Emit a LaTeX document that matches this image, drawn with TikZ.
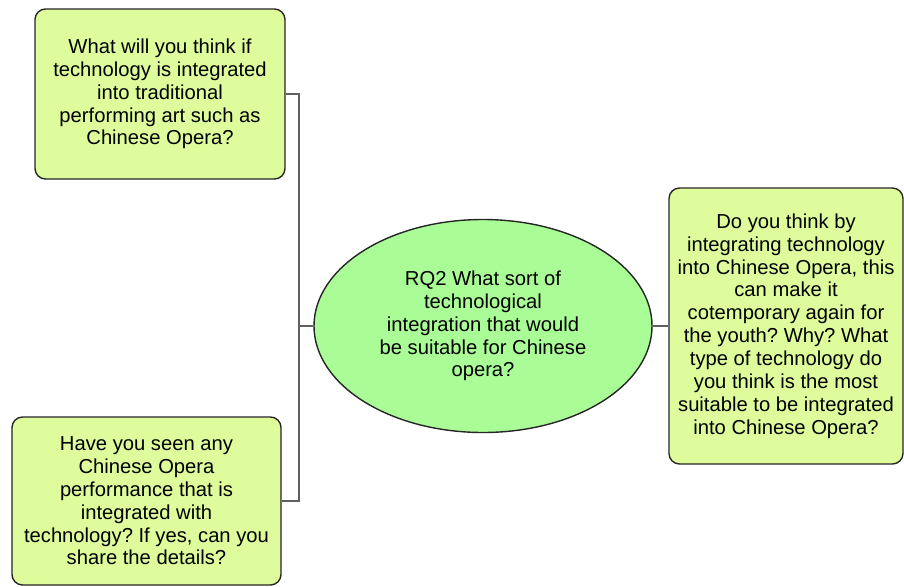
\documentclass[tikz,border=0pt]{standalone}
\usepackage{fontspec}
\setmainfont{Liberation Sans}
\usepackage{tikz}
\usetikzlibrary{positioning,shapes.geometric}
\frenchspacing
\definecolor{qfill}{RGB}{222,252,156}
\definecolor{rqfill}{RGB}{170,252,150}
\definecolor{linkgrey}{RGB}{95,95,95}
\tikzset{
    question/.style={draw=black!85, fill=qfill, rounded corners=6pt, line width=0.8pt,
        align=center, inner sep=2pt, font=\fontsize{11.5}{13}\selectfont},
    rqnode/.style={draw=black!85, fill=rqfill, ellipse, line width=0.8pt, inner sep=0pt,
        align=center, font=\fontsize{11.5}{13}\selectfont},
    link/.style={draw=linkgrey, line width=1.1pt}
}
\begin{document}
\begin{tikzpicture}
    \useasboundingbox (0,0) rectangle (18.08,-11.72);
    \node[rqnode, minimum width=6.76cm, minimum height=4.26cm] at (9.66,-6.52) (rq)
        {RQ2 What sort of\\technological\\integration that would\\be suitable for Chinese\\opera?};
    \node[question, minimum width=5cm, minimum height=3.4cm] at (3.2,-1.88) (q1)
        {What will you think if\\technology is integrated\\into traditional\\performing art such as\\Chinese Opera?};
    \node[question, minimum width=5.38cm, minimum height=3.36cm] at (2.93,-10.02) (q2)
        {Have you seen any\\Chinese Opera\\performance that is\\integrated with\\technology? If yes, can you\\share the details?};
    \node[question, minimum width=4.68cm, minimum height=5.52cm] at (15.72,-6.52) (q3)
        {Do you think by\\integrating technology\\into Chinese Opera, this\\can make it\\cotemporary again for\\the youth? Why? What\\type of technology do\\you think is the most\\suitable to be integrated\\into Chinese Opera?};
    \coordinate (jn) at (5.98,-6.52);
    \draw[link] (q1.east) -| (jn) |- (q2.east);
    \draw[link] (jn) -- (rq.west);
    \draw[link] (rq.east) -- (q3.west);
\end{tikzpicture}
\end{document}
